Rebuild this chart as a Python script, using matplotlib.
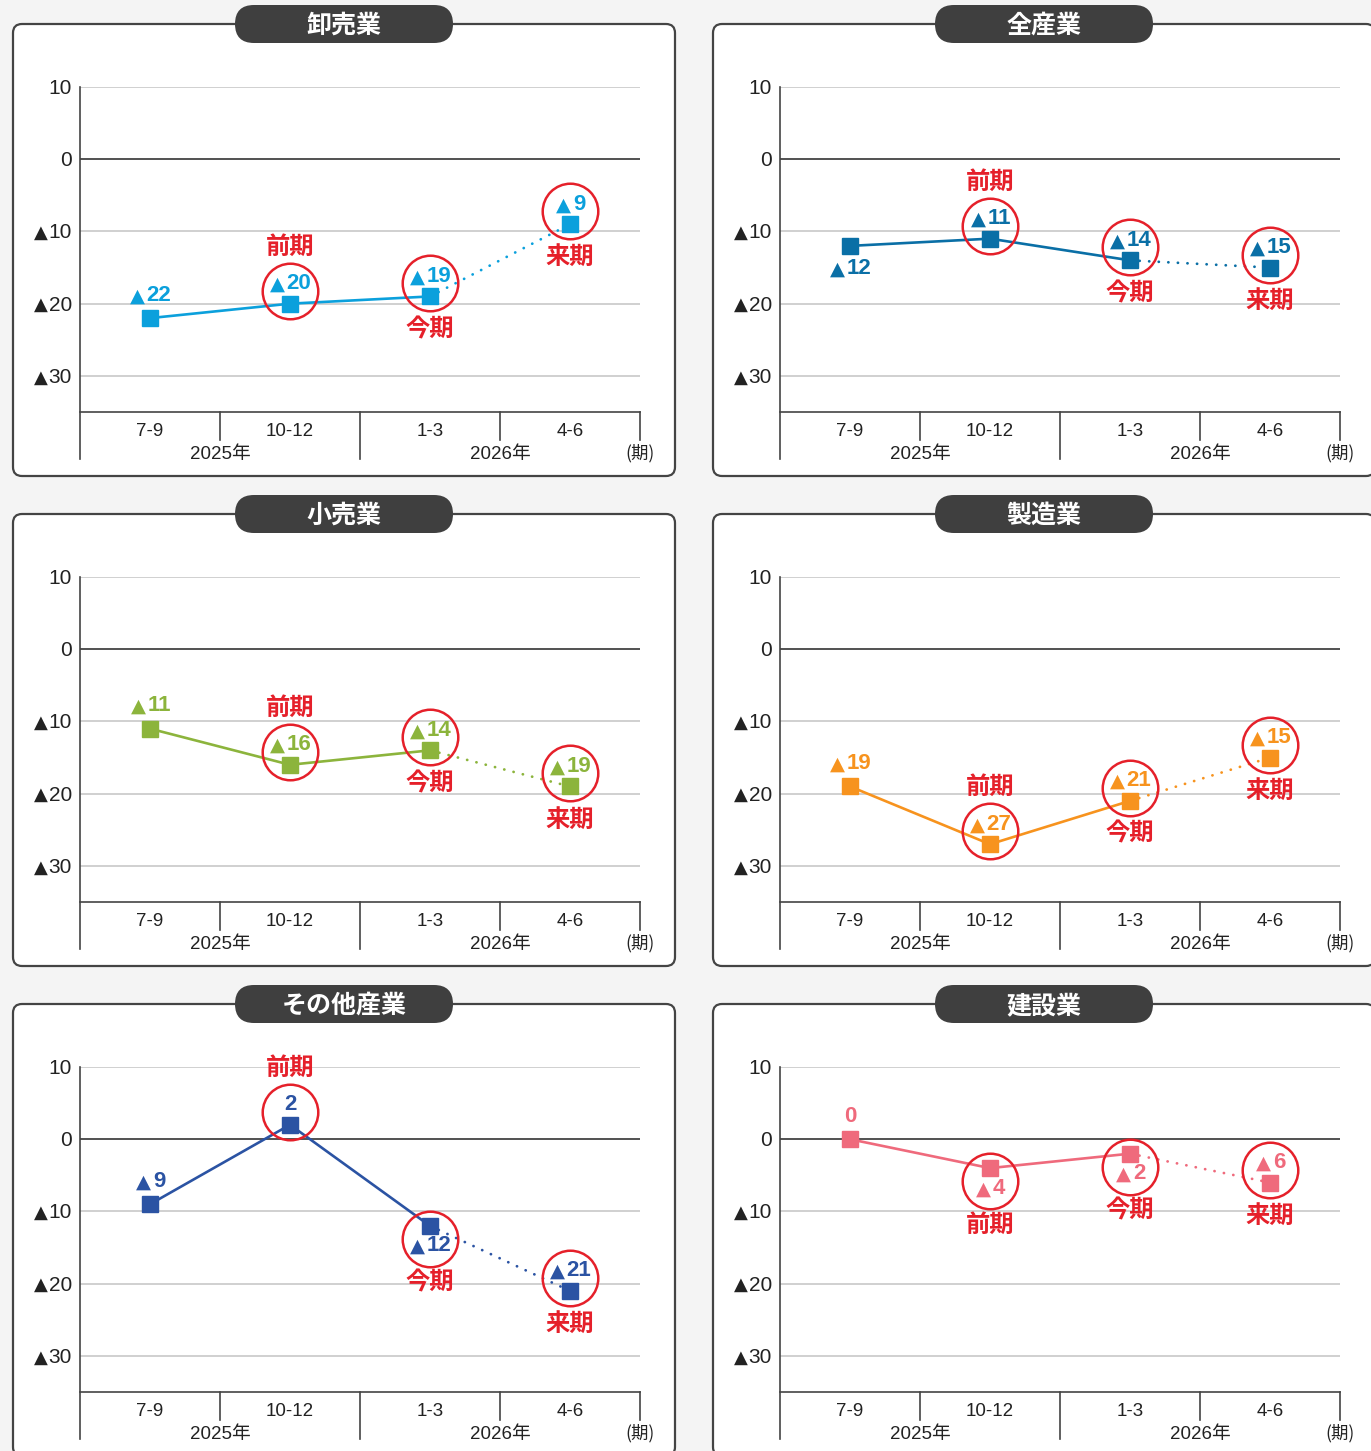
import matplotlib
matplotlib.use("Agg")
import matplotlib.pyplot as plt
from matplotlib.patches import FancyBboxPatch
from matplotlib import transforms as mtrans

plt.rcParams['font.family'] = ['Liberation Sans', 'Noto Sans CJK JP', 'DejaVu Sans']

# --- data -------------------------------------------------------------
periods = ["7-9", "10-12", "1-3", "4-6"]
years = ["2025年", "2026年"]
ytick_vals = [10, 0, -10, -20, -30]
period_marks = ["前期", "今期", "来期"]   # for points 1, 2, 3

titles = ["卸売業", "全産業", "小売業", "製造業", "その他産業", "建設業"]
wholesale = [-22, -20, -19, -9]
all_ind = [-12, -11, -14, -15]
retail = [-11, -16, -14, -19]
manufacturing = [-19, -27, -21, -15]
others = [-9, 2, -12, -21]
construction = [0, -4, -2, -6]
series = [wholesale, all_ind, retail, manufacturing, others, construction]
colors = ["#0ba0dc", "#0a6fa6", "#8cb43c", "#f7931e", "#2b53a3", "#ef6a7c"]
# side of value label: +1 above the marker, -1 below
label_side = [
    [1, 1, 1, 1],
    [-1, 1, 1, 1],
    [1, 1, 1, 1],
    [1, 1, 1, 1],
    [1, 1, -1, 1],
    [1, -1, -1, 1],
]
mark_side = [
    [1, -1, -1],
    [1, -1, -1],
    [1, -1, -1],
    [1, -1, -1],
    [1, -1, -1],
    [-1, -1, -1],
]

RED = "#e5202a"
W, H = 1371, 1451
fig = plt.figure(figsize=(W / 100, H / 100), dpi=100)
fig.patch.set_facecolor("#f4f4f4")

# background axes in pixel coordinates for panel frames
bg = fig.add_axes([0, 0, 1, 1])
bg.set_xlim(0, W)
bg.set_ylim(H, 0)
bg.axis("off")
bg.patch.set_alpha(0)

offsets = [(0, 0), (700, 0), (0, 490), (700, 490), (0, 980), (700, 980)]


def px(x, y):
    return x / W, 1 - y / H


def tri_label(ax, num_text, size, weight, color, gap=-1.2):
    # big triangle placed just left of a number text
    ax.annotate("▲", xy=(0, 0), xycoords=num_text, xytext=(gap, 0.3),
                textcoords="offset points", ha="right", va="bottom",
                family="DejaVu Sans", fontsize=size, fontweight=weight,
                color=color, zorder=6, annotation_clip=False)


for i, (ox, oy) in enumerate(offsets):
    # frame
    bg.add_patch(FancyBboxPatch((13 + ox, 24 + oy), 662, 452,
                                boxstyle="round,pad=0,rounding_size=9",
                                fc="white", ec="#444444", lw=1.6, zorder=1))
    bg.add_patch(FancyBboxPatch((235 + ox, 5 + oy), 218, 38,
                                boxstyle="round,pad=0,rounding_size=19",
                                fc="#3f3f3f", ec="none", zorder=2))
    bg.text(344 + ox, 26 + oy, titles[i], color="white", fontsize=18,
            fontweight="bold", ha="center", va="center",
            family=["Noto Sans CJK JP"], zorder=3)

    # chart axes
    l, t = px(80 + ox, 87 + oy)
    r, b = px(640 + ox, 412 + oy)
    ax = fig.add_axes([l, b, r - l, t - b])
    ax.patch.set_alpha(0)
    ax.set_xlim(-0.5, 3.5)
    ax.set_ylim(-35, 10)
    for s in ["top", "right", "left"]:
        ax.spines[s].set_visible(False)
    ax.spines["bottom"].set_color("#444444")
    ax.spines["bottom"].set_linewidth(1.2)
    ax.set_yticks([])
    ax.set_xticks(range(4), periods)
    ax.tick_params(axis="x", length=0, pad=8, labelsize=13.5, labelcolor="#222222")

    # y tick labels with a large triangle for negatives
    ytr = mtrans.offset_copy(
        mtrans.blended_transform_factory(ax.transAxes, ax.transData),
        fig=fig, x=-8, y=-1.5, units="dots")
    for v in ytick_vals:
        t_ = ax.text(0, v, str(abs(v)), transform=ytr, ha="right", va="center",
                     fontsize=15, color="#222222", clip_on=False)
        if v < 0:
            tri_label(ax, t_, 13, "normal", "#222222", gap=-0.6)

    for v in ytick_vals:
        if v == 0:
            ax.axhline(v, color="#333333", lw=1.2, zorder=1)
        else:
            ax.axhline(v, color="#c4c4c4", lw=1.1, zorder=1)

    hpx = 325.0
    tr = mtrans.blended_transform_factory(ax.transData, ax.transAxes)
    # y axis line extending below
    ax.plot([-0.5, -0.5], [1, -47 / hpx], color="#444444", lw=1.2,
            transform=tr, clip_on=False)
    for xs, ln in [(0.5, 28), (1.5, 47), (2.5, 28), (3.5, 28)]:
        ax.plot([xs, xs], [0, -ln / hpx], color="#444444", lw=1.2,
                transform=tr, clip_on=False)
    for k, yl in enumerate(years):
        ax.text(0.5 + 2 * k, -42 / hpx, yl, transform=tr, ha="center",
                va="center", fontsize=13.5, color="#222222")
    ax.text(3.5, -41 / hpx, "(期)", transform=tr, ha="center", va="center",
            fontsize=12.5, color="#222222", family=["Noto Sans CJK JP"])

    vals = series[i]
    c = colors[i]
    ax.plot(range(3), vals[:3], color=c, lw=1.9, zorder=3)
    ax.plot([2, 3], vals[2:], color=c, lw=2.0, ls=(0, (0.05, 3.4)),
            dash_capstyle="round", zorder=3)
    ax.plot(range(4), vals, ls="none", marker="s", ms=11.5, color=c, zorder=4)

    for j, v in enumerate(vals):
        side = label_side[i][j]
        dy = (20 if j >= 1 else 23) * side
        hw = 9 if v < 0 else 0
        off = mtrans.offset_copy(ax.transData, fig=fig, x=hw, y=dy,
                                 units="dots")
        nt = ax.text(j, v, str(abs(v)), transform=off, ha="center",
                     va="center", fontsize=16, fontweight="bold", color=c,
                     zorder=6)
        if v < 0:
            tri_label(ax, nt, 14, "bold", c)
        if j >= 1:
            coff = mtrans.offset_copy(ax.transData, fig=fig, x=0,
                                      y=13 * side, units="dots")
            ax.plot([j], [v], transform=coff, marker="o", ms=40, mfc="none",
                    mec=RED, mew=1.8, ls="none", zorder=5, clip_on=False)
            ms_ = mark_side[i][j - 1]
            d = 57 if ms_ == side else 33
            moff = mtrans.offset_copy(ax.transData, fig=fig, x=0,
                                      y=d * ms_, units="dots")
            ax.text(j, v, period_marks[j - 1], transform=moff, ha="center",
                    va="center", fontsize=17.5, fontweight="bold", color=RED,
                    family=["Noto Sans CJK JP"], zorder=6)

fig.savefig("out.png", dpi=100, facecolor=fig.get_facecolor())
